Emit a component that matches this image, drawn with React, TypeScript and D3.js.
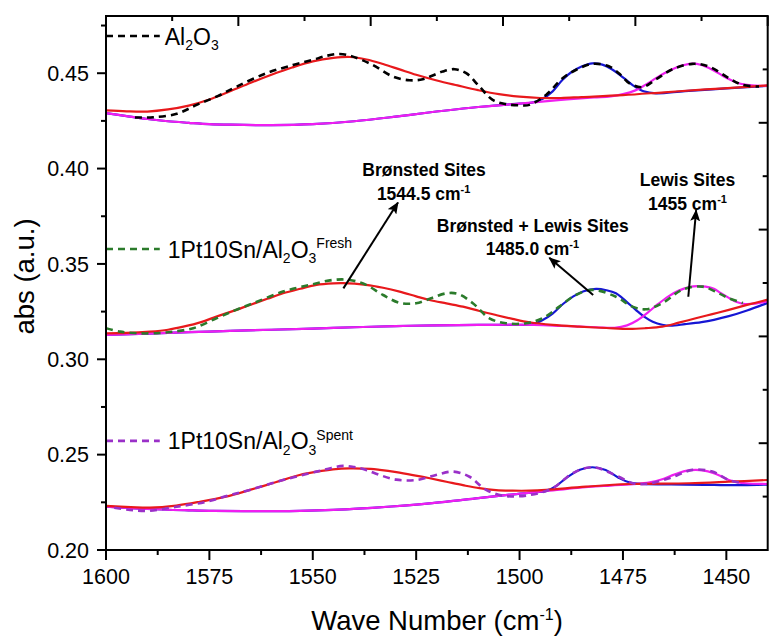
import React from 'react';
import * as d3 from 'd3';

type Pt = [number, number];

// ---------- axes ----------
const xTickValues = [1600, 1575, 1550, 1525, 1500, 1475, 1450];
const xMinorValues = [1587.5, 1562.5, 1537.5, 1512.5, 1487.5, 1462.5];
const yTickValues = [0.2, 0.25, 0.3, 0.35, 0.4, 0.45];
const yMinorValues = [0.225, 0.275, 0.325, 0.375, 0.425, 0.475];
const xDomain: Pt = [1600, 1440];
const yDomain: Pt = [0.2, 0.48];

// ---------- Al2O3 (top) ----------
const topExp: Pt[] = [
  [1593, 0.4268], [1588.6, 0.4269], [1582.9, 0.4287], [1578.1, 0.4334], [1573, 0.438], [1568.4, 0.443],
  [1561.2, 0.45], [1554.8, 0.4543], [1550, 0.457], [1546.7, 0.4591], [1543.5, 0.4601], [1540.3, 0.4587],
  [1535.5, 0.4543], [1530.6, 0.4482], [1526.6, 0.4463], [1523.4, 0.4468], [1521, 0.4488], [1518.6, 0.4509],
  [1515.7, 0.4521], [1512.9, 0.45], [1509.7, 0.443], [1506.5, 0.436], [1503.3, 0.4338], [1500, 0.4332],
  [1497.6, 0.4334], [1493.6, 0.4386], [1489.6, 0.4474], [1486.4, 0.4517], [1482.4, 0.4549], [1478.3, 0.4535],
  [1475.5, 0.449], [1473.5, 0.4448], [1470.3, 0.4427], [1467, 0.4468], [1463, 0.4521], [1458.2, 0.4549],
  [1454.2, 0.4535], [1449.4, 0.4474], [1446.1, 0.4439], [1442.1, 0.443],
];
const topRed: Pt[] = [
  [1600, 0.4305], [1595, 0.43], [1590, 0.4299], [1585, 0.431], [1580, 0.433], [1575, 0.4362], [1570, 0.4405],
  [1565, 0.445], [1560, 0.4492], [1555, 0.453], [1550, 0.4562], [1545, 0.458], [1541, 0.4585], [1537, 0.4572],
  [1533, 0.4548], [1529, 0.452], [1525, 0.4492], [1520, 0.4462], [1515, 0.4436], [1510, 0.4411], [1505, 0.439],
  [1500, 0.4377], [1495, 0.437], [1490, 0.437], [1485, 0.4375], [1475, 0.4385], [1465, 0.44], [1455, 0.4415],
  [1445, 0.4428], [1440, 0.4436],
];
const topBlue: Pt[] = [
  [1600, 0.4291], [1595, 0.4275], [1590, 0.426], [1585, 0.4248], [1580, 0.424], [1575, 0.4233], [1570, 0.423],
  [1560, 0.4228], [1550, 0.4233], [1540, 0.4248], [1530, 0.4272], [1522, 0.4294], [1510, 0.4323], [1500, 0.4341],
  [1497, 0.4346], [1494.5, 0.4365], [1492, 0.4405], [1489.6, 0.4466], [1487.5, 0.4505], [1485, 0.4535],
  [1482.4, 0.4552], [1480, 0.4545], [1477.5, 0.4518], [1475, 0.4478], [1472.5, 0.4435], [1470, 0.4405],
  [1467, 0.4394], [1460, 0.4406], [1450, 0.442], [1440, 0.4434],
];
const topMagenta: Pt[] = [
  [1600, 0.4291], [1595, 0.4275], [1590, 0.426], [1585, 0.4248], [1580, 0.424], [1575, 0.4233], [1570, 0.423],
  [1560, 0.4228], [1550, 0.4233], [1540, 0.4248], [1530, 0.4272], [1522, 0.4294], [1510, 0.4323], [1500, 0.4341],
  [1490, 0.436], [1482, 0.4373], [1478, 0.4379], [1475, 0.439], [1472, 0.441], [1469.5, 0.444], [1467, 0.4474],
  [1465, 0.45], [1463, 0.4521], [1460.5, 0.4542], [1458.2, 0.455], [1456, 0.4543], [1454.2, 0.4527],
  [1452.5, 0.4508], [1451, 0.4488], [1449.3, 0.4468], [1447.7, 0.4453], [1445.5, 0.444], [1443, 0.4435],
  [1440, 0.4434],
];

// ---------- 1Pt10Sn/Al2O3 fresh (middle) ----------
const midExp: Pt[] = [
  [1600, 0.3163], [1596.6, 0.3145], [1591.8, 0.3136], [1587, 0.3138], [1583.8, 0.3145], [1578.9, 0.3163],
  [1573.3, 0.3215], [1569, 0.3255], [1564.4, 0.3294], [1557.2, 0.3355], [1550.7, 0.339], [1545.1, 0.3416],
  [1541.1, 0.3416], [1537.1, 0.339], [1533, 0.3337], [1529, 0.3296], [1525, 0.3294], [1521.4, 0.332],
  [1517.7, 0.3346], [1514.9, 0.3343], [1511.3, 0.3294], [1507.3, 0.3215], [1503.3, 0.3189], [1498.4, 0.3189],
  [1494.4, 0.3215], [1490.4, 0.3276], [1486.4, 0.3337], [1482.4, 0.3364], [1476.7, 0.3328], [1472.7, 0.3276],
  [1469.5, 0.3262], [1465.5, 0.3294], [1460.7, 0.3364], [1455.8, 0.3381], [1451.8, 0.3346], [1449.4, 0.332],
  [1446, 0.3295],
];
const midRed: Pt[] = [
  [1600, 0.3136], [1595, 0.3138], [1589.4, 0.3145], [1585, 0.3155], [1581.3, 0.3171], [1577, 0.3195],
  [1573.3, 0.3224], [1569, 0.3255], [1565.2, 0.3285], [1561, 0.3317], [1557.2, 0.3346], [1553, 0.337],
  [1549.1, 0.339], [1545, 0.3398], [1542.7, 0.3399], [1537.1, 0.339], [1533, 0.3375], [1529, 0.3355],
  [1525, 0.333], [1521.8, 0.3311], [1517.7, 0.3293], [1513.7, 0.3276], [1509.7, 0.3253], [1505.7, 0.3232],
  [1501.7, 0.3212], [1497.6, 0.3194], [1492, 0.318], [1485.6, 0.3171], [1479, 0.3164], [1473.5, 0.3159],
  [1469.5, 0.3163], [1465.5, 0.3171], [1461.5, 0.3192], [1457.4, 0.3215], [1453.4, 0.3237], [1449.4, 0.3259],
  [1445, 0.3285], [1440, 0.3313],
];
const midBlue: Pt[] = [
  [1600, 0.3128], [1590, 0.3135], [1580, 0.3142], [1570, 0.3149], [1560, 0.3155], [1550, 0.3161], [1540, 0.3168],
  [1530, 0.3174], [1520, 0.3178], [1510, 0.318], [1500, 0.3181], [1497, 0.3183], [1494.5, 0.3205], [1492, 0.324],
  [1489.5, 0.329], [1487, 0.333], [1484.5, 0.3357], [1481.5, 0.3369], [1479, 0.3362], [1476.7, 0.3346],
  [1474.3, 0.3305], [1471.9, 0.3259], [1469.8, 0.3222], [1467.8, 0.3197], [1465.5, 0.3181], [1463.5, 0.3176],
  [1460, 0.3184], [1456, 0.3195], [1453, 0.3207], [1449.4, 0.3226], [1445, 0.3256], [1440, 0.3296],
];
const midMagenta: Pt[] = [
  [1600, 0.3128], [1590, 0.3135], [1580, 0.3142], [1570, 0.3149], [1560, 0.3155], [1550, 0.3161], [1540, 0.3168],
  [1530, 0.3174], [1520, 0.3178], [1510, 0.318], [1500, 0.3181], [1490, 0.3175], [1481.5, 0.3168], [1477, 0.3165],
  [1474, 0.3178], [1471.5, 0.3205], [1469, 0.3245], [1466.5, 0.329], [1464, 0.333], [1461.5, 0.336],
  [1459, 0.3378], [1457, 0.3384], [1455, 0.3381], [1453, 0.337], [1451.4, 0.3348], [1449.4, 0.3322],
  [1447.5, 0.33], [1445.5, 0.329], [1443, 0.3292], [1440, 0.3303],
];

// ---------- 1Pt10Sn/Al2O3 spent (bottom) ----------
const botExp: Pt[] = [
  [1598, 0.2222], [1594.2, 0.221], [1589.4, 0.2206], [1582.9, 0.2227], [1575.7, 0.2253], [1570.5, 0.2285],
  [1565.2, 0.2315], [1557.2, 0.2367], [1549.1, 0.2411], [1545.5, 0.243], [1542.7, 0.2441], [1540, 0.2435],
  [1537.1, 0.242], [1533.8, 0.2393], [1529.8, 0.2369], [1525, 0.2367], [1520.2, 0.2393], [1516.1, 0.2411],
  [1512.1, 0.2384], [1508.1, 0.2315], [1503.3, 0.2283], [1497.6, 0.2288], [1492, 0.2324], [1487.2, 0.2402],
  [1482.4, 0.2434], [1476, 0.2384], [1472.7, 0.235], [1469.5, 0.2346], [1463.8, 0.2376], [1458.2, 0.242],
  [1453.4, 0.2411], [1449.4, 0.2367], [1446, 0.235],
];
const botRed: Pt[] = [
  [1600, 0.2231], [1594, 0.2225], [1589.4, 0.2222], [1583, 0.2233], [1577.3, 0.2253], [1571, 0.228],
  [1565.2, 0.2315], [1559, 0.2355], [1553.2, 0.2393], [1549, 0.2411], [1545.1, 0.2423], [1541.1, 0.2428],
  [1536, 0.2425], [1533.8, 0.242], [1529.8, 0.2408], [1525.8, 0.2393], [1521.7, 0.2376], [1517.7, 0.2358],
  [1513.7, 0.234], [1509.7, 0.2324], [1505.7, 0.2314], [1501.7, 0.2311], [1497.6, 0.2311], [1493.6, 0.2315],
  [1484, 0.2332], [1473.5, 0.2346], [1459, 0.235], [1449.4, 0.2358], [1440, 0.2367],
];
const botBlue: Pt[] = [
  [1600, 0.2227], [1590, 0.2215], [1580, 0.2208], [1574, 0.2205], [1560, 0.2204], [1553, 0.2205], [1545, 0.221],
  [1538, 0.2218], [1531, 0.2228], [1525, 0.2238], [1518, 0.2252], [1510, 0.2272], [1502, 0.2291], [1496, 0.2303],
  [1493.5, 0.231], [1491.2, 0.2335], [1488.8, 0.2376], [1485.6, 0.242], [1482.4, 0.2434], [1479.2, 0.242],
  [1476, 0.2378], [1473.5, 0.2355], [1470, 0.2346], [1465, 0.2344], [1460, 0.2343], [1453, 0.2341],
  [1446, 0.234], [1440, 0.2343],
];
const botMagenta: Pt[] = [
  [1600, 0.2227], [1590, 0.2215], [1580, 0.2208], [1574, 0.2205], [1560, 0.2204], [1553, 0.2205], [1545, 0.221],
  [1538, 0.2218], [1531, 0.2228], [1525, 0.2238], [1518, 0.2252], [1510, 0.2272], [1502, 0.2291], [1494, 0.2308],
  [1486, 0.2326], [1478, 0.2338], [1471.9, 0.2346], [1468.5, 0.2355], [1465.5, 0.2371], [1463.5, 0.2388],
  [1461.4, 0.2405], [1459.5, 0.2416], [1457.4, 0.242], [1455.4, 0.2416], [1453.4, 0.2405], [1451.4, 0.2388],
  [1449.4, 0.2367], [1447.4, 0.2356], [1445.3, 0.235], [1440, 0.2346],
];

// ---------- legend ----------
const legendLabels = ['Al2O3', '1Pt10Sn/Al2O3', '1Pt10Sn/Al2O3'];
const legendSupers = ['', 'Fresh', 'Spent'];
const legendColors = ['#000000', '#2b7b2b', '#9a30c8'];
const legendLevels = [0.4695, 0.3578, 0.2572];
const legendLine: Pt = [1600, 1587];

// ---------- annotations ----------
const annotTitles = ['Brønsted Sites', 'Brønsted + Lewis Sites', 'Lewis Sites'];
const annotValues = ['1544.5 cm', '1485.0 cm', '1455 cm'];
const annotTitlePos: Pt[] = [[1523.1, 0.3961], [1496.8, 0.3669], [1459.4, 0.391]];
const annotValuePos: Pt[] = [[1523.2, 0.3835], [1496.9, 0.3547], [1459.4, 0.3783]];
const arrowTails: Pt[] = [[1542.6, 0.3372], [1482.2, 0.3337], [1459.2, 0.3328]];
const arrowTips: Pt[] = [[1529.4, 0.3822], [1492.8, 0.3532], [1457.3, 0.3782]];

const RED = '#e8191c';
const BLUE = '#1616d4';
const MAGENTA = '#f01ef0';
const FONT = '"Liberation Sans", Arial, Helvetica, sans-serif';

export default function App() {
  const W = 771;
  const H = 638;
  const left = 106;
  const right = 767.7;
  const top = 16;
  const bottom = 550;

  const x = d3.scaleLinear().domain(xDomain).range([left, right]);
  const y = d3.scaleLinear().domain(yDomain).range([bottom, top]);
  const topAxis = d3.scaleLinear().domain([0, 5]).range([left, right]);
  const rightAxis = d3.scaleLinear().domain([0, 10]).range([bottom, top]);

  const line = d3
    .line<Pt>()
    .x((d) => x(d[0]))
    .y((d) => y(d[1]))
    .curve(d3.curveCatmullRom.alpha(0.5));

  const groups = [
    { exp: topExp, red: topRed, blue: topBlue, mag: topMagenta, color: legendColors[0] },
    { exp: midExp, red: midRed, blue: midBlue, mag: midMagenta, color: legendColors[1] },
    { exp: botExp, red: botRed, blue: botBlue, mag: botMagenta, color: legendColors[2] },
  ];

  const topTicks = d3.range(0, 5.01, 0.5);
  const rightTicks = d3.range(0, 10.01, 1);

  return (
    <svg
      width={W}
      height={H}
      style={{ position: 'absolute', left: 0, top: 0, background: '#fff' }}
      fontFamily={FONT}
    >
      <defs>
        <marker
          id="arrowhead"
          viewBox="0 0 12 10"
          refX="11"
          refY="5"
          markerWidth="12"
          markerHeight="10"
          markerUnits="userSpaceOnUse"
          orient="auto"
        >
          <path d="M0,0 L12,5 L0,10 L2.5,5 Z" fill="#000" />
        </marker>
        <clipPath id="plotclip">
          <rect x={left} y={top} width={right - left} height={bottom - top} />
        </clipPath>
      </defs>
      <rect x={0} y={0} width={W} height={H} fill="#fff" />

      {/* curves */}
      <g clipPath="url(#plotclip)" fill="none" strokeLinejoin="round" strokeLinecap="round">
        {groups.map((g, i) => (
          <g key={i}>
            <path d={line(g.blue) || ''} stroke={BLUE} strokeWidth={2.2} />
            <path d={line(g.mag) || ''} stroke={MAGENTA} strokeWidth={2.2} />
            <path d={line(g.red) || ''} stroke={RED} strokeWidth={2.2} />
            <path
              d={line(g.exp) || ''}
              stroke={g.color}
              strokeWidth={2.6}
              strokeDasharray="7,5"
              strokeLinecap="butt"
            />
          </g>
        ))}
      </g>

      {/* legend */}
      {legendLabels.map((lab, i) => {
        const ly = y(legendLevels[i]);
        const pre = lab.replace('Al2O3', 'Al');
        return (
          <g key={lab + i}>
            <line
              x1={x(legendLine[0])}
              x2={x(legendLine[1])}
              y1={ly}
              y2={ly}
              stroke={legendColors[i]}
              strokeWidth={2.6}
              strokeDasharray="7,5"
            />
            <text x={x(legendLine[1]) + (i === 0 ? 5 : 8)} y={ly + 8.5} fontSize={23} fill="#000">
              {pre}
              <tspan dy={5.5} fontSize={14}>2</tspan>
              <tspan dy={-5.5}>O</tspan>
              <tspan dy={5.5} fontSize={14}>3</tspan>
              {legendSupers[i] ? (
                <tspan dy={-15} fontSize={14}>
                  {legendSupers[i]}
                </tspan>
              ) : null}
            </text>
          </g>
        );
      })}

      {/* annotations */}
      {annotTitles.map((t, i) => (
        <g key={t}>
          <text
            x={x(annotTitlePos[i][0])}
            y={y(annotTitlePos[i][1])}
            fontSize={17.5}
            fontWeight="bold"
            textAnchor="middle"
            fill="#000"
          >
            {t}
          </text>
          <text
            x={x(annotValuePos[i][0])}
            y={y(annotValuePos[i][1])}
            fontSize={17.5}
            fontWeight="bold"
            textAnchor="middle"
            fill="#000"
          >
            {annotValues[i]}
            <tspan dy={-7} fontSize={11}>
              -1
            </tspan>
          </text>
          <line
            x1={x(arrowTails[i][0])}
            y1={y(arrowTails[i][1])}
            x2={x(arrowTips[i][0])}
            y2={y(arrowTips[i][1])}
            stroke="#000"
            strokeWidth={2}
            markerEnd="url(#arrowhead)"
          />
        </g>
      ))}

      {/* frame */}
      <rect x={left} y={top} width={right - left} height={bottom - top} fill="none" stroke="#000" strokeWidth={2} />

      {/* bottom axis */}
      {xTickValues.map((v) => (
        <g key={'xt' + v}>
          <line x1={x(v)} x2={x(v)} y1={bottom} y2={bottom + 10} stroke="#000" strokeWidth={2} />
          <text x={x(v)} y={584} fontSize={21.5} textAnchor="middle" fill="#000">
            {v}
          </text>
        </g>
      ))}
      {xMinorValues.map((v) => (
        <line key={'xm' + v} x1={x(v)} x2={x(v)} y1={bottom} y2={bottom + 5} stroke="#000" strokeWidth={2} />
      ))}

      {/* left axis */}
      {yTickValues.map((v) => (
        <g key={'yt' + v}>
          <line x1={left - 9} x2={left} y1={y(v)} y2={y(v)} stroke="#000" strokeWidth={2} />
          <text x={89} y={y(v)} dy="0.36em" fontSize={21.5} textAnchor="end" fill="#000">
            {d3.format('.2f')(v)}
          </text>
        </g>
      ))}
      {yMinorValues.map((v) => (
        <line key={'ym' + v} x1={left - 5} x2={left} y1={y(v)} y2={y(v)} stroke="#000" strokeWidth={2} />
      ))}

      {/* top axis (mirror, inward) */}
      {topTicks.map((t) => (
        <line
          key={'tt' + t}
          x1={topAxis(t)}
          x2={topAxis(t)}
          y1={top}
          y2={top + (Number.isInteger(t) ? 10 : 5)}
          stroke="#000"
          strokeWidth={2}
        />
      ))}

      {/* right axis (mirror, inward) */}
      {rightTicks.map((t) => (
        <line
          key={'rt' + t}
          x1={right}
          x2={right - (t % 2 === 0 ? 9 : 5)}
          y1={rightAxis(t)}
          y2={rightAxis(t)}
          stroke="#000"
          strokeWidth={2}
        />
      ))}

      {/* axis titles */}
      <text x={437} y={630} fontSize={27.5} textAnchor="middle" fill="#000">
        Wave Number (cm
        <tspan dy={-10} fontSize={16}>
          -1
        </tspan>
        <tspan dy={10}>)</tspan>
      </text>
      <text
        transform="translate(34,276.5) rotate(-90)"
        fontSize={27.5}
        textAnchor="middle"
        fill="#000"
      >
        abs (a.u.)
      </text>
    </svg>
  );
}
